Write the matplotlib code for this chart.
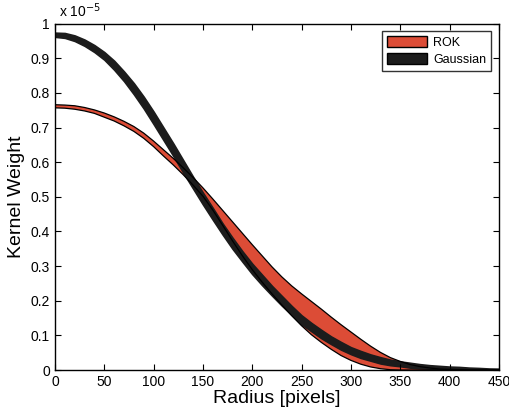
import numpy as np
import matplotlib.pyplot as plt
from matplotlib.patches import Patch

plt.rcParams['font.family'] = ['Liberation Sans', 'DejaVu Sans']

# radius [pixels], every 10
radius = list(range(0, 451, 10))

# kernel weights, in units of 1e-5
rok_upper = [0.766, 0.765, 0.763, 0.758, 0.751, 0.742, 0.731, 0.718, 0.703, 0.684,
             0.661, 0.636, 0.611, 0.584, 0.556, 0.526, 0.494, 0.461, 0.428, 0.395,
             0.362, 0.330, 0.298, 0.269, 0.243, 0.220, 0.198, 0.176, 0.153, 0.131,
             0.110, 0.089, 0.069, 0.051, 0.036, 0.025, 0.016, 0.010, 0.006, 0.003,
             0.002, 0.001, 0.000, 0.000, 0.000, 0.000]
rok_lower = [0.757, 0.756, 0.753, 0.748, 0.741, 0.730, 0.719, 0.705, 0.689, 0.669,
             0.645, 0.618, 0.592, 0.564, 0.534, 0.502, 0.462, 0.418, 0.373, 0.330,
             0.290, 0.254, 0.220, 0.188, 0.157, 0.128, 0.102, 0.080, 0.060, 0.042,
             0.028, 0.017, 0.009, 0.004, 0.001, 0.000, 0.000, 0.000, 0.000, 0.000,
             0.000, 0.000, 0.000, 0.000, 0.000, 0.000]

gauss_mid = [0.968, 0.966, 0.958, 0.945, 0.928, 0.907, 0.880, 0.848, 0.812, 0.772,
             0.728, 0.682, 0.636, 0.588, 0.541, 0.495, 0.451, 0.407, 0.366, 0.328,
             0.292, 0.260, 0.229, 0.200, 0.172, 0.145, 0.124, 0.104, 0.086, 0.070,
             0.056, 0.045, 0.036, 0.028, 0.022, 0.018, 0.014, 0.011, 0.009, 0.007,
             0.006, 0.005, 0.004, 0.003, 0.0025, 0.002]
gauss_halfwidth = [0.006, 0.007, 0.008, 0.009, 0.010, 0.011, 0.013, 0.014, 0.016, 0.017,
                   0.018, 0.018, 0.018, 0.018, 0.017, 0.017, 0.017, 0.016, 0.016, 0.015,
                   0.015, 0.015, 0.014, 0.014, 0.013, 0.013, 0.012, 0.012, 0.011, 0.011,
                   0.010, 0.010, 0.009, 0.009, 0.008, 0.007, 0.007, 0.006, 0.005, 0.005,
                   0.004, 0.004, 0.003, 0.003, 0.002, 0.002]

red = '#dc4c36'
dark = '#1c1c1c'

g_mid = np.array(gauss_mid)
g_hw = np.array(gauss_halfwidth)

fig = plt.figure(figsize=(5.09, 4.08), dpi=100)
ax = fig.add_axes([0.108, 0.093, 0.872, 0.849])

# ROK band, red with thin black outline
ax.fill_between(radius, rok_lower, rok_upper, facecolor=red, edgecolor='none')
ax.plot(radius, rok_upper, color='black', lw=0.9)
ax.plot(radius, rok_lower, color='black', lw=0.9)
# Gaussian band drawn on top
ax.fill_between(radius, g_mid - g_hw, g_mid + g_hw, facecolor=dark, edgecolor=dark, linewidth=1.2)

ax.set_xlim(0, 450)
ax.set_ylim(0, 1)
ax.set_xticks(np.arange(0, 451, 50))
ax.set_yticks(np.arange(0, 1.01, 0.1))
ax.set_yticklabels(['0', '0.1', '0.2', '0.3', '0.4', '0.5', '0.6', '0.7', '0.8', '0.9', '1'])
ax.tick_params(direction='in', top=True, right=True, length=4, labelsize=10, width=0.8)
for s in ax.spines.values():
    s.set_linewidth(1.0)

ax.set_xlabel('Radius [pixels]', fontsize=14, labelpad=1)
ax.set_ylabel('Kernel Weight', fontsize=14, labelpad=4)
ax.text(0.01, 1.012, r'x 10$^{-5}$', transform=ax.transAxes, fontsize=10, va='bottom', ha='left')

handles = [Patch(facecolor=red, edgecolor='black', label='ROK'),
           Patch(facecolor=dark, edgecolor='black', label='Gaussian')]
ax.legend(handles=handles, loc='upper right', fontsize=9, frameon=True, fancybox=False,
          edgecolor='black', handlelength=3.2, handleheight=1.0, borderaxespad=0.6,
          labelspacing=0.3, handletextpad=0.5)

fig.savefig('out.png', dpi=100)
